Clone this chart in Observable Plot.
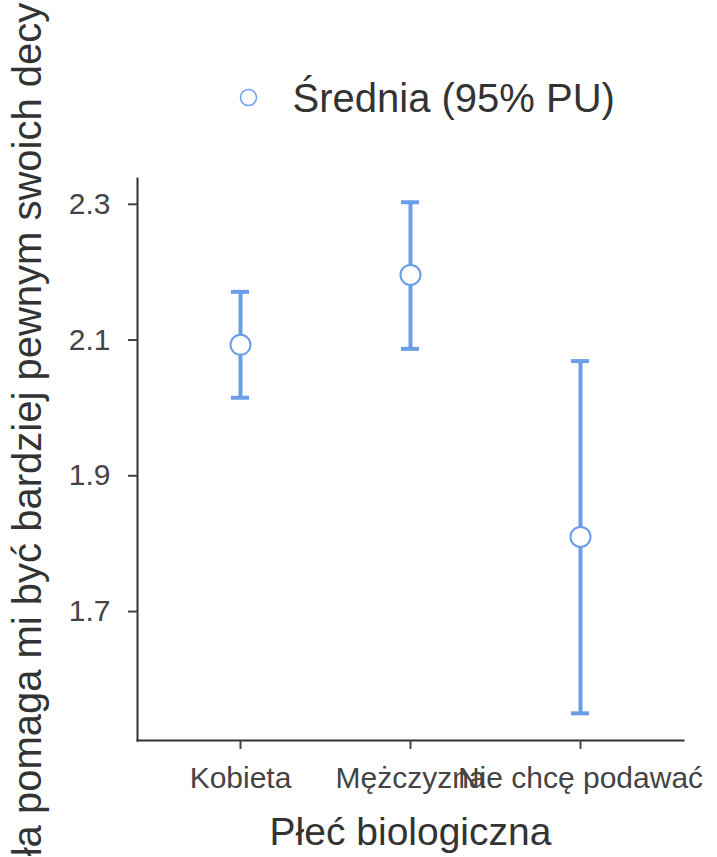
<!DOCTYPE html>
<html><head><meta charset="utf-8">
<script src="https://cdn.jsdelivr.net/npm/d3@7"></script>
<script src="https://cdn.jsdelivr.net/npm/@observablehq/plot@0.6"></script>
<style>body{margin:0;background:#fff}</style>
</head><body><div id="chart"></div>
<script>
const groups = ["Kobieta", "Mężczyzna", "Nie chcę podawać"];
const means = [2.093, 2.196, 1.810];
const lower = [2.015, 2.087, 1.550];
const upper = [2.171, 2.303, 2.069];
const yTicks = [1.7, 1.9, 2.1, 2.3];
const legendLabel = "Średnia (95% PU)";
const xTitle = "Płeć biologiczna";
const yTitle = "ła pomaga mi być bardziej pewnym swoich decy";

const data = groups.map((g, i) => ({group: g, mean: means[i], lower: lower[i], upper: upper[i]}));
const blue = "#6B9DE8";
const ink = "#333333";
const tickInk = "#444444";
const font = "'Liberation Sans', Arial, sans-serif";

const plot = Plot.plot({
  width: 717, height: 857,
  marginTop: 178, marginBottom: 117, marginLeft: 137, marginRight: 34,
  style: {fontFamily: font, background: "#fff"},
  x: {type: "band", domain: groups, paddingInner: 0.8945, paddingOuter: 0.5475},
  y: {domain: [1.51, 2.338]},
  marks: [
    Plot.frame({anchor: "left", stroke: ink, strokeWidth: 2}),
    Plot.frame({anchor: "bottom", stroke: ink, strokeWidth: 2}),
    Plot.axisY({ticks: yTicks, tickFormat: d3.format(".1f"), tickSize: 9, tickPadding: 18,
      fontSize: 30, color: tickInk, strokeWidth: 2, label: null}),
    Plot.axisX({tickSize: 9, tickPadding: 17, fontSize: 30, color: tickInk, strokeWidth: 2, label: null}),
    Plot.ruleX(data, {x: "group", y1: "lower", y2: "upper", stroke: blue, strokeWidth: 4}),
    Plot.tickY(data, {x: "group", y: "lower", stroke: blue, strokeWidth: 4}),
    Plot.tickY(data, {x: "group", y: "upper", stroke: blue, strokeWidth: 4}),
    Plot.dot(data, {x: "group", y: "mean", r: 10, fill: "white", stroke: blue, strokeWidth: 2}),
    Plot.dot([legendLabel], {x: null, y: null, frameAnchor: "top-left", dx: 111, dy: -81, r: 8,
      fill: "white", stroke: blue, strokeWidth: 1.5}),
    Plot.text([legendLabel], {x: null, y: null, text: d => d, frameAnchor: "top-left", dx: 155, dy: -79,
      textAnchor: "start", lineAnchor: "middle", fontSize: 40, fill: ink}),
    Plot.text([xTitle], {x: null, y: null, text: d => d, frameAnchor: "bottom", dy: 92,
      textAnchor: "middle", lineAnchor: "middle", fontSize: 39, fill: ink}),
    Plot.text([yTitle], {x: null, y: null, text: d => d, frameAnchor: "left", dx: -109, dy: -30, rotate: -90,
      textAnchor: "middle", lineAnchor: "middle", fontSize: 40, fill: ink})
  ]
});
document.getElementById("chart").appendChild(plot);
</script>
</body></html>
